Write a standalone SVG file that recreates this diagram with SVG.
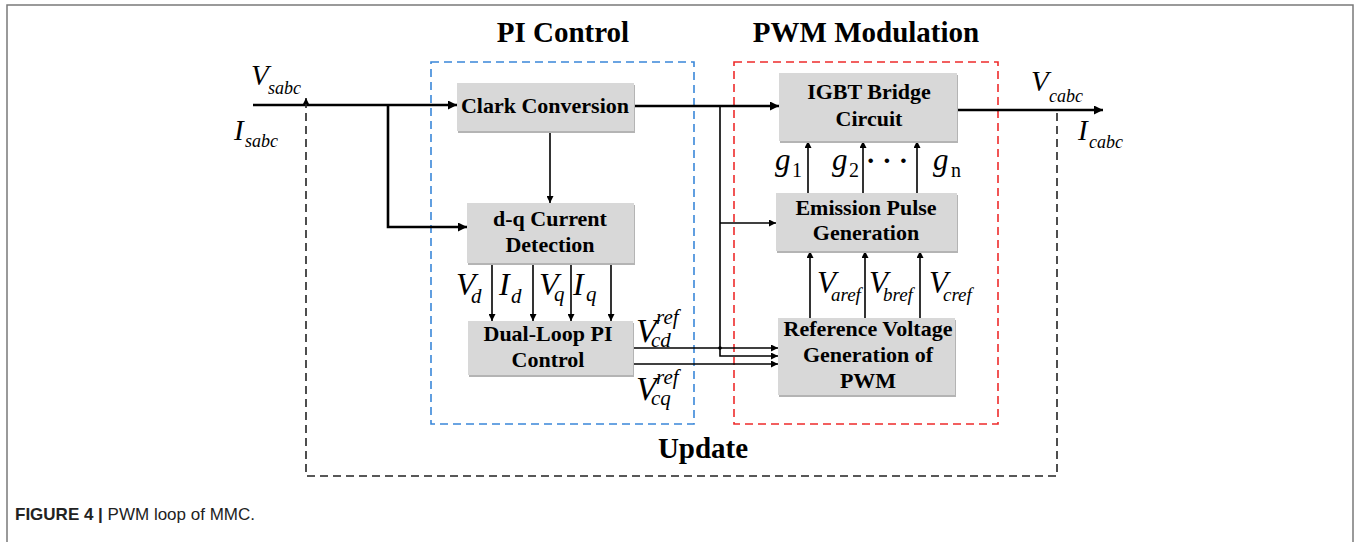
<svg xmlns="http://www.w3.org/2000/svg" width="1356" height="542" viewBox="0 0 1356 542">
<style>
.box{fill:#d8d8d8;}
.shadow{fill:#b4b4b4;}
.bt{font-family:"Liberation Serif",serif;font-weight:bold;font-size:22px;fill:#000;text-anchor:middle;}
.title{font-family:"Liberation Serif",serif;font-weight:bold;font-size:29px;fill:#000;text-anchor:middle;}
.it{font-family:"Liberation Serif",serif;font-style:italic;fill:#000;}
.up{font-family:"Liberation Serif",serif;font-style:normal;}
.thin{fill:none;stroke:#000;stroke-width:1.6;marker-end:url(#ah);}
.thick{fill:none;stroke:#000;stroke-width:2.6;marker-end:url(#ahb);}
.cap{font-family:"Liberation Sans",Arial,sans-serif;font-size:17px;fill:#222;}
</style>
<defs>
<marker id="ah" viewBox="0 0 10 10" refX="10" refY="5" markerWidth="9" markerHeight="7" markerUnits="userSpaceOnUse" orient="auto"><path d="M0,0 L10,5 L0,10 z" fill="#000"/></marker>
<marker id="ahb" viewBox="0 0 10 10" refX="10" refY="5" markerWidth="13" markerHeight="9" markerUnits="userSpaceOnUse" orient="auto"><path d="M0,0 L10,5 L0,10 z" fill="#000"/></marker>
<marker id="ahs" viewBox="0 0 10 10" refX="10" refY="5" markerWidth="7" markerHeight="6" markerUnits="userSpaceOnUse" orient="auto"><path d="M0,0 L10,5 L0,10 z" fill="#000"/></marker>
</defs>
<rect width="1356" height="542" fill="#fff"/>
<path d="M7,542 V5 H1353 V542" fill="none" stroke="#7a7a7a" stroke-width="1.5"/>

<g id="groups">
<rect x="431" y="62" width="263" height="362" fill="none" stroke="#3a87d9" stroke-width="1.6" stroke-dasharray="8,5"/>
<rect x="734" y="62" width="264" height="362" fill="none" stroke="#ee2b2b" stroke-width="1.6" stroke-dasharray="8,5"/>
<text class="title" x="563" y="42">PI Control</text>
<text class="title" x="866" y="42">PWM Modulation</text>
<text class="title" x="703" y="458">Update</text>
</g>

<g id="connectors">
<path class="thick" d="M253,105 H457"/>
<path class="thick" d="M388,105 V227 H467"/>
<path class="thin" d="M550,131 V203"/>
<path class="thin" d="M492,263 V321"/>
<path class="thin" d="M533,263 V321"/>
<path class="thin" d="M571,263 V321"/>
<path class="thin" d="M611,263 V321"/>
<path class="thick" d="M634,106 H779"/>
<path class="thin" d="M720,106 V356 H778"/>
<path class="thin" d="M720,223 H776"/>
<path class="thin" d="M633,348 H778"/>
<path class="thin" d="M633,364 H778"/>
<circle cx="720" cy="348" r="1.8" fill="#000"/>
<path class="thin" d="M808,193 V141"/>
<path class="thin" d="M863,193 V141"/>
<path class="thin" d="M917,193 V141"/>
<path class="thin" d="M810,318 V251"/>
<path class="thin" d="M865,318 V251"/>
<path class="thin" d="M920,318 V251"/>
<path class="thick" d="M957,110 H1103"/>
<path d="M1057,113 V476 H306 V104" fill="none" stroke="#222" stroke-width="1.6" stroke-dasharray="8,5"/>
<path d="M306,106 V98" fill="none" stroke="#222" stroke-width="1.6" marker-end="url(#ahs)"/>
</g>

<g id="clark">
<rect class="shadow" x="458" y="85" width="177" height="48"/>
<rect class="box" x="457" y="83" width="177" height="48"/>
<text class="bt" x="545" y="113">Clark Conversion</text>
</g>
<g id="dq">
<rect class="shadow" x="468" y="205" width="167" height="60"/>
<rect class="box" x="467" y="203" width="167" height="60"/>
<text class="bt" x="550" y="226">d-q Current</text>
<text class="bt" x="550" y="252">Detection</text>
</g>
<g id="dual">
<rect class="shadow" x="469" y="323" width="165" height="54"/>
<rect class="box" x="468" y="321" width="165" height="54"/>
<text class="bt" x="548" y="341">Dual-Loop PI</text>
<text class="bt" x="548" y="367">Control</text>
</g>
<g id="igbt">
<rect class="shadow" x="780" y="75" width="178" height="68"/>
<rect class="box" x="779" y="73" width="178" height="68"/>
<text class="bt" x="869" y="99">IGBT Bridge</text>
<text class="bt" x="869" y="126">Circuit</text>
</g>
<g id="emission">
<rect class="shadow" x="777" y="195" width="181" height="58"/>
<rect class="box" x="776" y="193" width="181" height="58"/>
<text class="bt" x="866" y="215">Emission Pulse</text>
<text class="bt" x="866" y="240">Generation</text>
</g>
<g id="refgen">
<rect class="shadow" x="779" y="320" width="177" height="77"/>
<rect class="box" x="778" y="318" width="177" height="77"/>
<text class="bt" x="868" y="336">Reference Voltage</text>
<text class="bt" x="868" y="362">Generation of</text>
<text class="bt" x="868" y="388">PWM</text>
</g>

<g id="labels">
<text class="it" x="251" y="85" font-size="29">V<tspan x="268" dy="9" font-size="18">sabc</tspan></text>
<text class="it" x="234" y="140" font-size="29">I<tspan x="245" dy="7" font-size="18">sabc</tspan></text>
<text class="it" x="1031" y="91" font-size="29">V<tspan x="1049" dy="11" font-size="18">cabc</tspan></text>
<text class="it" x="1078" y="140" font-size="29">I<tspan x="1089" dy="8" font-size="18">cabc</tspan></text>

<text class="it" x="456" y="295" font-size="32">V<tspan x="471" dy="8" font-size="21">d</tspan></text>
<text class="it" x="499" y="295" font-size="32">I<tspan x="511" dy="8" font-size="21">d</tspan></text>
<text class="it" x="539" y="295" font-size="32">V<tspan x="554" dy="6" font-size="21">q</tspan></text>
<text class="it" x="573" y="295" font-size="32">I<tspan x="586" dy="6" font-size="21">q</tspan></text>

<text class="it" x="636" y="342" font-size="34">V<tspan x="656" dy="-18" font-size="21">ref</tspan><tspan x="651" dy="23" font-size="21">cd</tspan></text>
<text class="it" x="636" y="400" font-size="34">V<tspan x="656" dy="-16" font-size="21">ref</tspan><tspan x="651" dy="21" font-size="21">cq</tspan></text>

<text class="it" x="775" y="170" font-size="31">g<tspan class="up" x="792" dy="7" font-size="20">1</tspan></text>
<text class="it" x="832" y="170" font-size="31">g<tspan class="up" x="849" dy="7" font-size="20">2</tspan></text>
<text class="it" x="933" y="170" font-size="31">g<tspan class="up" x="951" dy="7" font-size="20">n</tspan></text>
<text class="up" x="887" y="170" font-size="28" font-weight="bold" text-anchor="middle" fill="#000">· · ·</text>

<text class="it" x="817" y="293" font-size="31">V<tspan x="831" dy="8" font-size="19">aref</tspan></text>
<text class="it" x="869" y="293" font-size="31">V<tspan x="883" dy="8" font-size="19">bref</tspan></text>
<text class="it" x="929" y="293" font-size="31">V<tspan x="943" dy="8" font-size="19">cref</tspan></text>
</g>

<text class="cap" x="15" y="520"><tspan font-weight="bold">FIGURE 4 | </tspan>PWM loop of MMC.</text>
</svg>
